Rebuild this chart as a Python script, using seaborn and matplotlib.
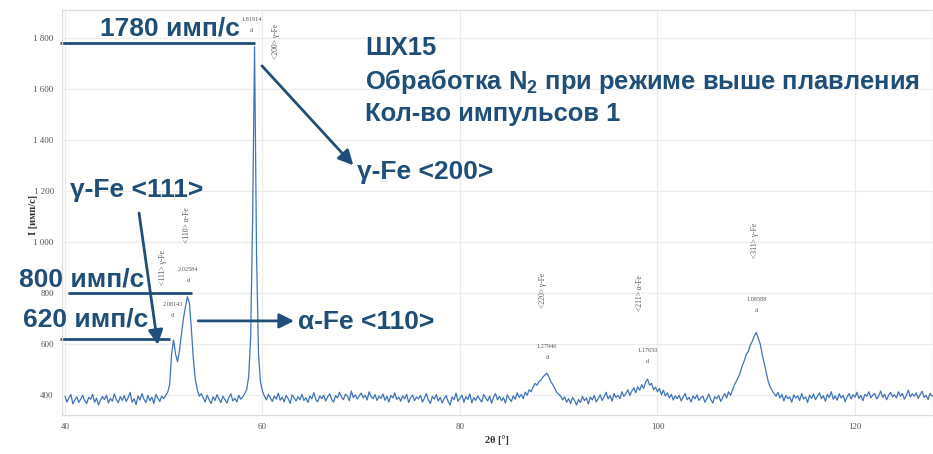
import numpy as np
import pandas as pd
import matplotlib
matplotlib.use("Agg")
import matplotlib.pyplot as plt
import seaborn as sns

# ---------------- data ----------------
two_theta_start = 40.0
two_theta_step = 0.2
intensity = [
    395, 372, 388, 401, 365, 380, 392, 370, 384, 398,   # 40-41.8
    376, 366, 390, 383, 402, 371, 387, 360, 379, 394,   # 42
    381, 399, 368, 386, 375, 404, 382, 369, 393, 378,   # 44
    397, 374, 389, 410, 371, 385, 362, 396, 380, 405,   # 46
    383, 370, 398, 377, 391, 366, 402, 388, 374, 395,   # 48
    385, 398, 410, 440, 560, 615, 560, 530, 575, 640,   # 50
    700, 745, 785, 760, 660, 540, 460, 420, 395, 405,   # 52
    388, 372, 399, 380, 366, 392, 378, 401, 384, 370,   # 54
    395, 381, 368, 390, 404, 376, 387, 372, 398, 383,   # 56
    392, 405, 420, 470, 620, 1080, 1765, 950, 560, 450,  # 58
    415, 395, 380, 402, 388, 374, 396, 383, 407, 379,   # 60
    391, 372, 398, 385, 366, 400, 389, 376, 393, 381,   # 62
    402, 378, 389, 370, 395, 384, 409, 381, 373, 396,   # 64
    385, 398, 376, 392, 404, 383, 371, 397, 388, 410,   # 66
    392, 381, 403, 395, 377, 415, 389, 400, 384, 396,   # 68
    407, 388, 398, 380, 412, 393, 385, 401, 378, 395,   # 70
    386, 403, 379, 394, 372, 398, 388, 408, 382, 391,   # 72
    375, 396, 385, 402, 370, 389, 399, 377, 392, 384,   # 74
    398, 372, 387, 405, 380, 366, 394, 383, 401, 376,   # 76
    390, 368, 385, 397, 374, 360, 392, 381, 407, 375,   # 78
    386, 399, 371, 393, 382, 404, 369, 390, 378, 396,   # 80
    383, 372, 401, 388, 376, 395, 367, 391, 405, 380,   # 82
    394, 377, 389, 368, 400, 385, 374, 396, 383, 408,   # 84
    390, 402, 385, 411, 398, 420, 412, 430, 445, 438,   # 86
    452, 458, 470, 478, 485, 470, 452, 440, 425, 410,   # 88
    402, 395, 380, 392, 371, 385, 366, 390, 378, 360,   # 90
    382, 370, 394, 377, 388, 364, 391, 380, 398, 372,   # 92
    386, 400, 378, 393, 410, 384, 397, 375, 405, 390,   # 94
    398, 385, 412, 394, 405, 420, 398, 415, 428, 408,   # 96
    432, 418, 440, 425, 450, 462, 438, 445, 420, 430,   # 98
    412, 425, 400, 418, 395, 408, 388, 402, 380, 396,   # 100
    385, 398, 376, 392, 405, 381, 390, 372, 396, 384,   # 102
    400, 378, 389, 395, 371, 386, 403, 382, 368, 393,   # 104
    385, 398, 374, 390, 405, 388, 412, 398, 420, 440,   # 106
    455, 470, 490, 515, 535, 560, 570, 595, 610, 630,   # 108
    645, 622, 600, 560, 525, 490, 455, 432, 418, 405,   # 110
    395, 410, 388, 402, 376, 398, 385, 392, 371, 400,   # 112
    388, 396, 378, 405, 384, 392, 370, 399, 386, 403,   # 114
    381, 394, 408, 385, 397, 375, 402, 390, 412, 383,   # 116
    396, 379, 404, 388, 398, 373, 392, 405, 384, 400,   # 118
    391, 410, 386, 398, 377, 402, 395, 412, 388, 399,   # 120
    405, 384, 396, 415, 390, 403, 381, 398, 410, 392,   # 122
    400, 388, 412, 395, 405, 383, 398, 418, 392, 404,   # 124
    395, 408, 386, 401, 414, 390, 398, 382, 405, 396,   # 126
    400,                                                # 128
]
two_theta = [round(two_theta_start + i * two_theta_step, 2) for i in range(len(intensity))]

# small phase labels written by the diffractometer software
phase_labels = ["<111> γ-Fe", "<110> α-Fe", "<200> γ-Fe", "<220> γ-Fe", "<211> α-Fe", "<311> γ-Fe"]
phase_label_x = [49.9, 52.35, 61.4, 88.4, 98.2, 109.9]
phase_label_y = [898, 1066, 1784, 808, 800, 1004]
d_values = ["2.08143", "2.02584", "1.81914", "1.27946", "1.17650", "1.08588"]
d_value_x = [50.9, 52.5, 58.9, 88.8, 99.0, 110.0]
d_value_y = [753, 890, 1870, 588, 572, 772]

y_ticks = [400, 600, 800, 1000, 1200, 1400, 1600, 1800]
y_tick_labels = ["400", "600", "800", "1 000", "1 200", "1 400", "1 600", "1 800"]
x_ticks = [40, 60, 80, 100, 120]

df = pd.DataFrame({"two_theta": two_theta, "I": intensity})

# ---------------- figure ----------------
sns.set_style("white")
plt.rcParams["font.family"] = ["Liberation Sans", "DejaVu Sans"]
plt.rcParams["mathtext.fontset"] = "custom"
plt.rcParams["mathtext.rm"] = "Liberation Sans"
plt.rcParams["mathtext.bf"] = "Liberation Sans:bold"

fig = plt.figure(figsize=(9.33, 4.54), dpi=100)
ax = fig.add_axes([62 / 933, 1 - 415 / 454, 1 - 62 / 933, (415 - 10) / 454])

sns.lineplot(data=df, x="two_theta", y="I", ax=ax, color="#3f74b8", lw=0.9)

serif = ["Liberation Serif", "DejaVu Serif"]
ax.set_xlim(39.7, 127.9)
ax.set_ylim(321, 1909)
ax.set_xticks(x_ticks)
ax.set_xticklabels([str(t) for t in x_ticks], fontsize=6.5, color="#555555", family=serif)
ax.set_yticks(y_ticks)
ax.set_yticklabels(y_tick_labels, fontsize=6.5, color="#555555", family=serif)
ax.tick_params(length=0, pad=6)
ax.grid(True, color="#ececec", lw=0.9)
for s in ax.spines.values():
    s.set_color("#dddddd")
    s.set_linewidth(0.9)
ax.set_xlabel("")
ax.set_ylabel("")

fig.text(497 / 933, 1 - 440 / 454, "2θ [°]", ha="center", va="center",
         fontsize=7.5, fontweight="bold", color="#333333", family=serif)
fig.text(34 / 933, 1 - 215 / 454, "I [имп/с]", ha="center", va="center",
         rotation=90, fontsize=7.5, fontweight="bold", color="#333333", family=serif)

# small software labels
for lbl, xl, yl in zip(phase_labels, phase_label_x, phase_label_y):
    ax.text(xl, yl, lbl, rotation=90, ha="center", va="center", fontsize=5.5,
            color="#555555", family=serif)
for dv, xd, yd in zip(d_values, d_value_x, d_value_y):
    ax.text(xd, yd, dv, ha="center", va="center", fontsize=4.5, color="#555555", family=serif)
    ax.text(xd, yd - 43, "d", ha="center", va="center", fontsize=4.5, color="#555555", family=serif)

# ---------------- annotations ----------------
navy = "#1f4e79"
bold = dict(fontsize=19, fontweight="bold", color=navy)
title = dict(fontsize=18.4, fontweight="bold", color=navy)
arrow = dict(arrowstyle="-|>", color=navy, lw=2, mutation_scale=22, shrinkA=0, shrinkB=0)

ax.hlines(1780, 39.5, 59.2, color=navy, lw=2, clip_on=False)
ax.text(50.6, 1835, "1780 имп/с", ha="center", va="center", **bold)

ax.hlines(800, 40.3, 52.9, color=navy, lw=2, clip_on=False)
ax.text(35.3, 852, "800 имп/с", ha="left", va="center", clip_on=False, **bold)

ax.hlines(620, 39.5, 50.6, color=navy, lw=2, clip_on=False)
ax.text(35.8, 694, "620 имп/с", ha="left", va="center", clip_on=False, **bold)

ax.text(40.5, 1204, "γ-Fe <111>", ha="left", va="center", **bold)
ax.annotate("", xy=(49.4, 596), xytext=(47.5, 1113), arrowprops=arrow)

ax.text(63.6, 686, "α-Fe <110>", ha="left", va="center", **bold)
ax.annotate("", xy=(63.2, 690), xytext=(53.5, 690), arrowprops=arrow)

ax.text(69.6, 1274, "γ-Fe <200>", ha="left", va="center", **bold)
ax.annotate("", xy=(69.2, 1300), xytext=(59.95, 1690), arrowprops=arrow)

ax.text(70.4, 1760, "ШХ15", ha="left", va="center", **title)
ax.text(70.4, 1627, r"Обработка N$_{\mathbf{2}}$ при режиме выше плавления", ha="left",
        va="center", clip_on=False, **title)
ax.text(70.4, 1502, "Кол-во импульсов 1", ha="left", va="center", **title)

fig.savefig("out.png", dpi=100)
